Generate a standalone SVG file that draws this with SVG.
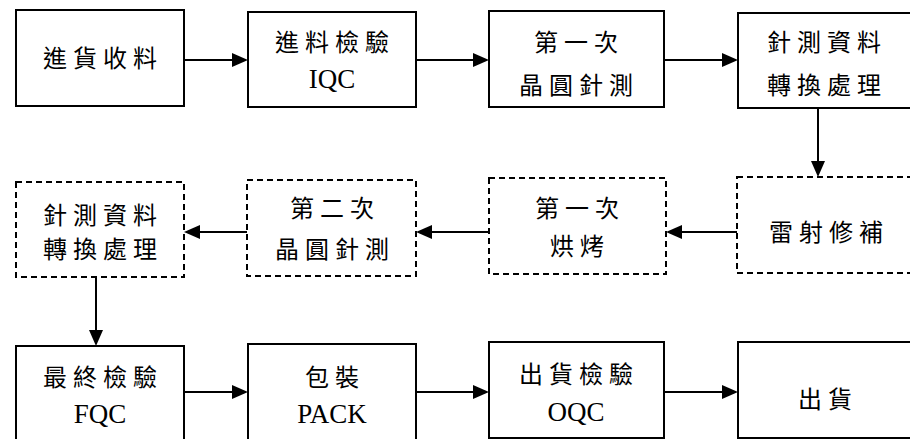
<svg xmlns="http://www.w3.org/2000/svg" width="910" height="439" viewBox="0 0 910 439">
<defs>
<style>
.box{fill:#fff;stroke:#000;stroke-width:2}
.dash{fill:#fff;stroke:#000;stroke-width:2;stroke-dasharray:6 4}
.t{font-family:"Liberation Serif","Noto Sans CJK TC",serif;font-size:24px;fill:#000;text-anchor:middle}
.c{letter-spacing:6px}
.l{font-size:27px}
.con{stroke:#000;stroke-width:2;fill:none;marker-end:url(#ah)}
</style>
<marker id="ah" markerUnits="userSpaceOnUse" markerWidth="16" markerHeight="14" refX="0" refY="7" orient="auto" overflow="visible">
<path d="M0,0 L16,7 L0,14 Z" fill="#000"/>
</marker>
</defs>
<g id="n1"><rect class="box" x="16" y="10" width="168" height="96"/><text class="t c" x="103" y="67">進貨收料</text></g>
<g id="n2"><rect class="box" x="248" y="12" width="168" height="95"/><text class="t c" x="335" y="51">進料檢驗</text><text class="t l" x="332" y="88">IQC</text></g>
<g id="n3"><rect class="box" x="489" y="11" width="175" height="96"/><text class="t c" x="579" y="51">第一次</text><text class="t c" x="579" y="94">晶圓針測</text></g>
<g id="n4"><rect class="box" x="738" y="13" width="174" height="95"/><text class="t c" x="827" y="51">針測資料</text><text class="t c" x="827" y="94">轉換處理</text></g>
<g id="n5"><rect class="dash" x="737" y="177" width="175" height="96"/><text class="t c" x="829" y="241">雷射修補</text></g>
<g id="n6"><rect class="dash" x="489" y="178" width="177" height="96"/><text class="t c" x="580" y="217">第一次</text><text class="t c" x="580" y="255">烘烤</text></g>
<g id="n7"><rect class="dash" x="247" y="180" width="169" height="96"/><text class="t c" x="335" y="217">第二次</text><text class="t c" x="335" y="258">晶圓針測</text></g>
<g id="n8"><rect class="dash" x="16" y="182" width="168" height="95"/><text class="t c" x="103" y="224">針測資料</text><text class="t c" x="103" y="258">轉換處理</text></g>
<g id="n9"><rect class="box" x="16" y="346" width="168" height="100"/><text class="t c" x="103" y="386">最終檢驗</text><text class="t l" x="100" y="423">FQC</text></g>
<g id="n10"><rect class="box" x="248" y="344" width="168" height="100"/><text class="t c" x="335" y="386">包裝</text><text class="t l" x="332" y="423">PACK</text></g>
<g id="n11"><rect class="box" x="489" y="342" width="175" height="96"/><text class="t c" x="579" y="383">出貨檢驗</text><text class="t l" x="576" y="421">OQC</text></g>
<g id="n12"><rect class="box" x="738" y="342" width="174" height="96"/><text class="t c" x="828" y="408">出貨</text></g>
<g id="connectors">
<line class="con" x1="184" y1="60" x2="232" y2="60"/>
<line class="con" x1="416" y1="60" x2="473" y2="60"/>
<line class="con" x1="664" y1="60" x2="722" y2="60"/>
<line class="con" x1="818" y1="108" x2="818" y2="161"/>
<line class="con" x1="737" y1="232" x2="682" y2="232"/>
<line class="con" x1="489" y1="232" x2="432" y2="232"/>
<line class="con" x1="247" y1="232" x2="200" y2="232"/>
<line class="con" x1="96" y1="277" x2="96" y2="330"/>
<line class="con" x1="184" y1="392" x2="232" y2="392"/>
<line class="con" x1="416" y1="392" x2="473" y2="392"/>
<line class="con" x1="664" y1="392" x2="722" y2="392"/>
</g>
</svg>
